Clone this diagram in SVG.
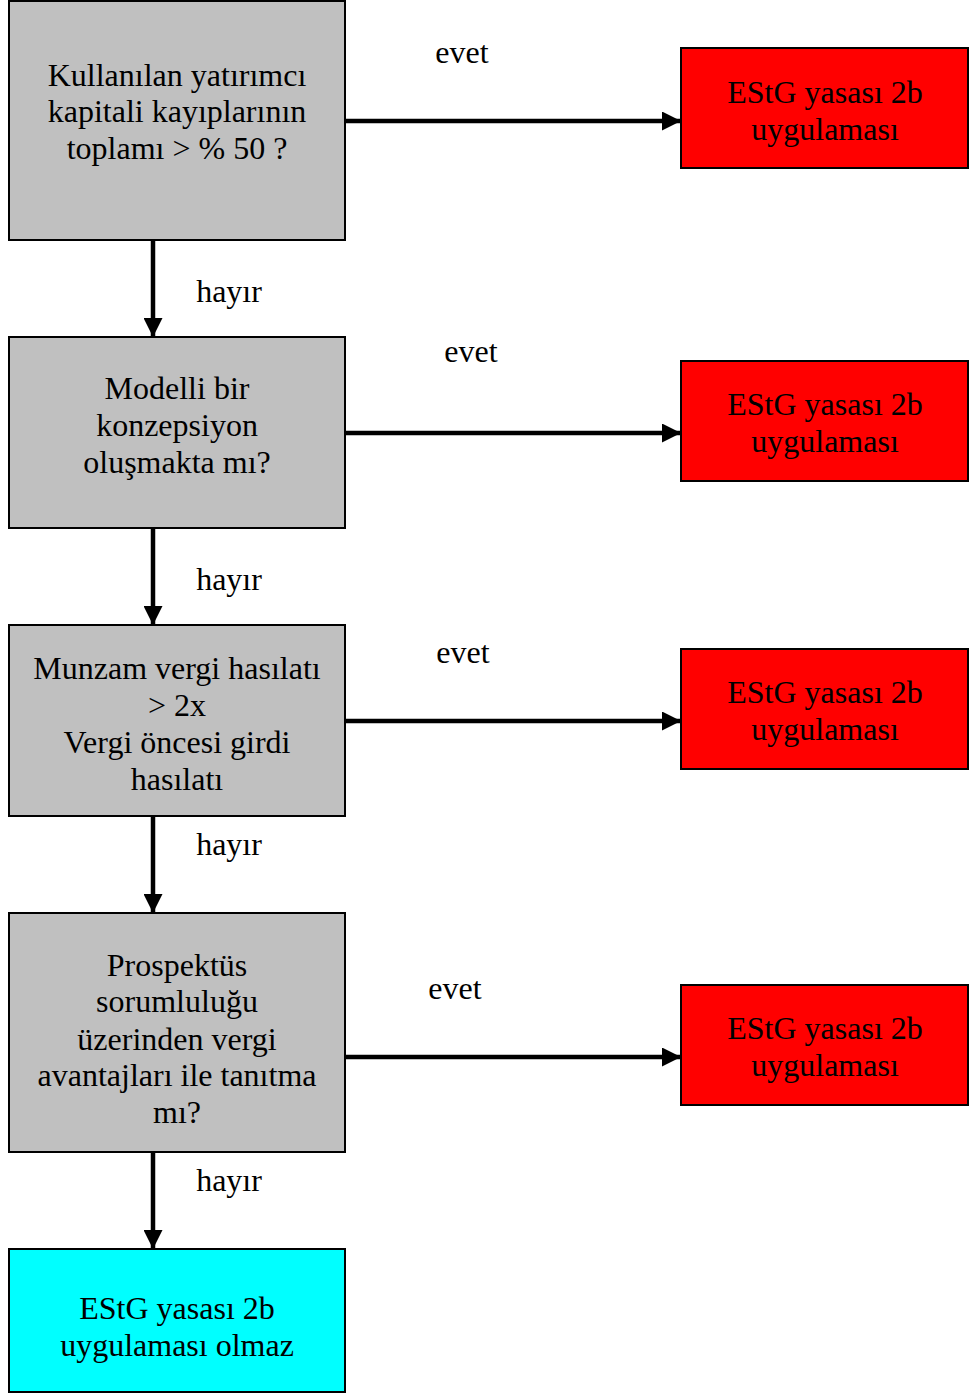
<svg xmlns="http://www.w3.org/2000/svg" width="969" height="1395" viewBox="0 0 969 1395">
<style>
.q{fill:#c0c0c0;stroke:#000;stroke-width:2}
.r{fill:#ff0000;stroke:#000;stroke-width:2}
.c{fill:#00ffff;stroke:#000;stroke-width:2}
text{font-family:"Liberation Serif","Times New Roman",serif;font-size:32px;fill:#000}
.m{text-anchor:middle}
.e{stroke:#000;stroke-width:4.5;fill:none;marker-end:url(#ah)}
</style>
<defs>
<marker id="ah" markerUnits="userSpaceOnUse" markerWidth="19" markerHeight="19" viewBox="0 0 19 19" refX="19" refY="9.5" orient="auto">
<path d="M0,0 L19,9.5 L0,19 Z" fill="#000"/>
</marker>
</defs>
<rect width="969" height="1395" fill="#fff"/>
<g id="connectors">
<line class="e" x1="345" y1="121" x2="681" y2="121"/>
<line class="e" x1="345" y1="433" x2="681" y2="433"/>
<line class="e" x1="345" y1="721" x2="681" y2="721"/>
<line class="e" x1="345" y1="1057" x2="681" y2="1057"/>
<line class="e" x1="153" y1="240" x2="153" y2="337"/>
<line class="e" x1="153" y1="528" x2="153" y2="625"/>
<line class="e" x1="153" y1="816" x2="153" y2="913"/>
<line class="e" x1="153" y1="1152" x2="153" y2="1249"/>
<text class="m" x="462" y="63">evet</text>
<text class="m" x="471" y="362">evet</text>
<text class="m" x="463" y="663">evet</text>
<text class="m" x="455" y="999">evet</text>
<text class="m" x="229" y="302">hayır</text>
<text class="m" x="229" y="590">hayır</text>
<text class="m" x="229" y="855">hayır</text>
<text class="m" x="229" y="1191">hayır</text>
</g>
<g id="q1"><rect class="q" x="9" y="1" width="336" height="239"/>
<text class="m" x="177" y="86">Kullanılan yatırımcı</text>
<text class="m" x="177" y="122">kapitali kayıplarının</text>
<text class="m" x="177" y="159">toplamı &gt; % 50 ?</text></g>
<g id="q2"><rect class="q" x="9" y="337" width="336" height="191"/>
<text class="m" x="177" y="399">Modelli bir</text>
<text class="m" x="177" y="436">konzepsiyon</text>
<text class="m" x="177" y="473">oluşmakta mı?</text></g>
<g id="q3"><rect class="q" x="9" y="625" width="336" height="191"/>
<text class="m" x="177" y="679">Munzam vergi hasılatı</text>
<text class="m" x="177" y="716">&gt; 2x</text>
<text class="m" x="177" y="753">Vergi öncesi girdi</text>
<text class="m" x="177" y="790">hasılatı</text></g>
<g id="q4"><rect class="q" x="9" y="913" width="336" height="239"/>
<text class="m" x="177" y="976">Prospektüs</text>
<text class="m" x="177" y="1012">sorumluluğu</text>
<text class="m" x="177" y="1050">üzerinden vergi</text>
<text class="m" x="177" y="1086">avantajları ile tanıtma</text>
<text class="m" x="177" y="1123">mı?</text></g>
<g id="end"><rect class="c" x="9" y="1249" width="336" height="143"/>
<text class="m" x="177" y="1319">EStG yasası 2b</text>
<text class="m" x="177" y="1356">uygulaması olmaz</text></g>
<g id="r1"><rect class="r" x="681" y="48" width="287" height="120"/>
<text class="m" x="825" y="103">EStG yasası 2b</text>
<text class="m" x="825" y="140">uygulaması</text></g>
<g id="r2"><rect class="r" x="681" y="361" width="287" height="120"/>
<text class="m" x="825" y="415">EStG yasası 2b</text>
<text class="m" x="825" y="452">uygulaması</text></g>
<g id="r3"><rect class="r" x="681" y="649" width="287" height="120"/>
<text class="m" x="825" y="703">EStG yasası 2b</text>
<text class="m" x="825" y="740">uygulaması</text></g>
<g id="r4"><rect class="r" x="681" y="985" width="287" height="120"/>
<text class="m" x="825" y="1039">EStG yasası 2b</text>
<text class="m" x="825" y="1076">uygulaması</text></g>
</svg>
